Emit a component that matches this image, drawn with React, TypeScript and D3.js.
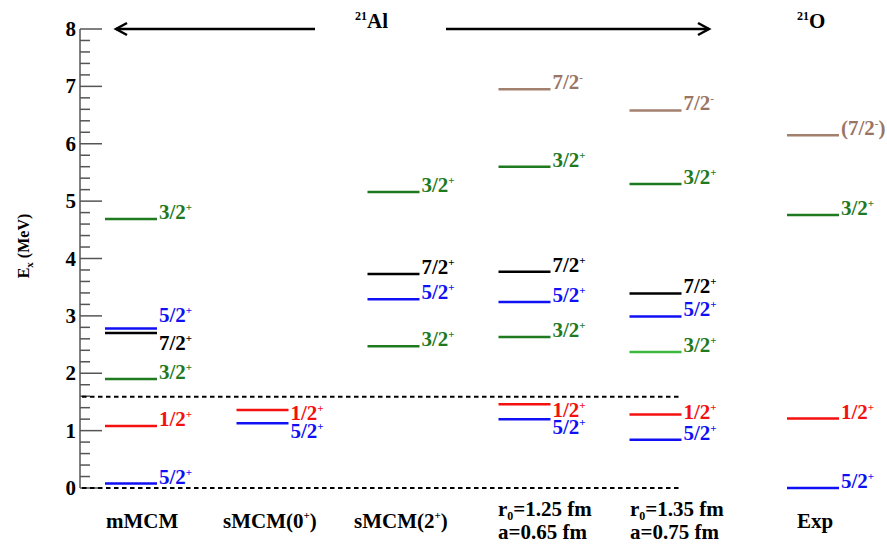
import * as d3 from "d3";
import { useEffect, useRef } from "react";

// Level scheme of 21Al (theory) and 21O (mirror, experiment)
const columns = ["mMCM", "sMCM0", "sMCM2", "r125", "r135", "Exp"];

// each level: spin, parity, energy (MeV)
const mMCM = [
  { j: "5/2", p: "+", e: 0.08 },
  { j: "1/2", p: "+", e: 1.08 },
  { j: "3/2", p: "+", e: 1.9 },
  { j: "7/2", p: "+", e: 2.7 },
  { j: "5/2", p: "+", e: 2.78 },
  { j: "3/2", p: "+", e: 4.69 },
];
const sMCM0 = [
  { j: "5/2", p: "+", e: 1.13 },
  { j: "1/2", p: "+", e: 1.36 },
];
const sMCM2 = [
  { j: "3/2", p: "+", e: 2.47 },
  { j: "5/2", p: "+", e: 3.29 },
  { j: "7/2", p: "+", e: 3.73 },
  { j: "3/2", p: "+", e: 5.16 },
];
const r125 = [
  { j: "5/2", p: "+", e: 1.2 },
  { j: "1/2", p: "+", e: 1.46 },
  { j: "3/2", p: "+", e: 2.63 },
  { j: "5/2", p: "+", e: 3.24 },
  { j: "7/2", p: "+", e: 3.77 },
  { j: "3/2", p: "+", e: 5.6 },
  { j: "7/2", p: "-", e: 6.95 },
];
const r135 = [
  { j: "5/2", p: "+", e: 0.84 },
  { j: "1/2", p: "+", e: 1.28 },
  { j: "3/2", p: "+", e: 2.37 },
  { j: "5/2", p: "+", e: 2.99 },
  { j: "7/2", p: "+", e: 3.39 },
  { j: "3/2", p: "+", e: 5.3 },
  { j: "7/2", p: "-", e: 6.58 },
];
const expO21 = [
  { j: "5/2", p: "+", e: 0.0 },
  { j: "1/2", p: "+", e: 1.21 },
  { j: "3/2", p: "+", e: 4.76 },
  { j: "(7/2", p: "-", e: 6.15, close: ")" },
];
const levelSets = [mMCM, sMCM0, sMCM2, r125, r135, expO21];

// dashed reference lines (ground state and threshold)
const dashedLevels = [0, 1.59];
const yTicks = [0, 1, 2, 3, 4, 5, 6, 7, 8];

// label nudges (px) where labels of close levels would collide
const labelShift: Record<string, number> = {
  "mMCM:3": 17,
  "mMCM:4": -6,
  "mMCM:0": 1,
  "sMCM0:0": 15,
  "sMCM0:1": 10,
  "r125:0": 15,
  "r125:1": 13,
  "r135:1": 4,
};

const colorOf = (d) => {
  if (d.p === "-") return "#a3806e";
  if (d.j === "5/2") return "#1010f5";
  if (d.j === "1/2") return "#f51010";
  if (d.j === "3/2") return "#1f7a1f";
  return "#000";
};
const textColorOf = (d) => (d.p === "-" ? "#9a7565" : colorOf(d));

const FONT = "'Liberation Serif', 'DejaVu Serif', serif";

const App = () => {
  const svgRef = useRef(null);

  useEffect(() => {
    if (!svgRef.current) return;
    const svg = d3.select(svgRef.current);
    svg.selectAll("*").remove();

    const y = d3.scaleLinear().domain([0, 8]).range([488, 29]);
    const x = d3
      .scaleOrdinal<string, number>()
      .domain(columns)
      .range([105, 236.5, 367.5, 498.5, 629.5, 787]);
    const lineLen = 52;
    const axisX = 80;

    // --- Axis ---
    const axis = svg.append("g").attr("stroke", "#555").attr("stroke-width", 1.5);
    axis.append("line").attr("x1", axisX).attr("x2", axisX).attr("y1", y(8)).attr("y2", y(0));
    const minor = d3.range(0, 8.001, 0.2);
    axis
      .selectAll("line.tick")
      .data(minor)
      .enter()
      .append("line")
      .attr("class", "tick")
      .attr("x1", axisX)
      .attr("x2", (d) => (Math.abs(d - Math.round(d)) < 1e-6 ? axisX + 22 : axisX + 10))
      .attr("y1", (d) => y(d))
      .attr("y2", (d) => y(d));

    svg
      .append("g")
      .selectAll("text")
      .data(yTicks)
      .enter()
      .append("text")
      .attr("x", 76)
      .attr("y", (d) => y(d) + 7)
      .attr("text-anchor", "end")
      .attr("font-family", FONT)
      .attr("font-weight", "bold")
      .attr("font-size", 21)
      .text((d) => d);

    // y title
    const yt = svg
      .append("text")
      .attr("transform", "translate(29,246) rotate(-90)")
      .attr("text-anchor", "middle")
      .attr("font-family", FONT)
      .attr("font-weight", "bold")
      .attr("font-size", 16);
    yt.append("tspan").text("E");
    yt.append("tspan").attr("font-size", 11).attr("dy", 4).text("x");
    yt.append("tspan").attr("dy", -4).text(" (MeV)");

    // --- Dashed lines ---
    svg
      .append("g")
      .selectAll("line")
      .data(dashedLevels)
      .enter()
      .append("line")
      .attr("x1", axisX + 2)
      .attr("x2", 682)
      .attr("y1", (d) => y(d))
      .attr("y2", (d) => y(d))
      .attr("stroke", "#000")
      .attr("stroke-width", 2)
      .attr("stroke-dasharray", "4.5,3.5");

    // --- Levels ---
    columns.forEach((col, ci) => {
      const g = svg.append("g");
      const levels = levelSets[ci];
      g.selectAll("line")
        .data(levels)
        .enter()
        .append("line")
        .attr("x1", x(col))
        .attr("x2", x(col) + lineLen)
        .attr("y1", (d) => y(d.e))
        .attr("y2", (d) => y(d.e))
        .attr("stroke", (d) => (col === "r135" && d.j === "3/2" && d.e < 3 ? "#3cb83c" : colorOf(d)))
        .attr("stroke-width", 2.5);

      g.selectAll("text")
        .data(levels)
        .enter()
        .append("text")
        .attr("x", x(col) + lineLen + 2)
        .attr("y", (d, i) => y(d.e) + (labelShift[`${col}:${i}`] || 0))
        .attr("font-family", FONT)
        .attr("font-weight", "bold")
        .attr("font-size", 21)
        .attr("fill", (d) => textColorOf(d))
        .each(function (d) {
          const t = d3.select(this);
          t.append("tspan").text(d.j);
          t.append("tspan").attr("font-size", 11).attr("dy", -8).text(d.p);
          if (d.close) t.append("tspan").attr("dy", 8).text(d.close);
        });
    });

    // --- Column labels ---
    const label = (xx, yy) =>
      svg
        .append("text")
        .attr("x", xx)
        .attr("y", yy)
        .attr("font-family", FONT)
        .attr("font-weight", "bold")
        .attr("font-size", 21);

    label(106, 528).text("mMCM");
    const s0 = label(223, 528);
    s0.append("tspan").text("sMCM(0");
    s0.append("tspan").attr("font-size", 11).attr("dy", -9).text("+");
    s0.append("tspan").attr("dy", 9).text(")");
    const s2 = label(354, 528);
    s2.append("tspan").text("sMCM(2");
    s2.append("tspan").attr("font-size", 11).attr("dy", -9).text("+");
    s2.append("tspan").attr("dy", 9).text(")");
    [
      ["1.25", "0.65", 498],
      ["1.35", "0.75", 630],
    ].forEach(([r, a, xx]) => {
      const t = label(xx, 516);
      t.append("tspan").text("r");
      t.append("tspan").attr("font-size", 12).attr("dy", 4).text("0");
      t.append("tspan").attr("dy", -4).text(`=${r} fm`);
      label(xx, 539).text(`a=${a} fm`);
    });
    label(797, 528).text("Exp");

    // --- Nucleus headers and arrows ---
    const head = (xx, nuc) => {
      const t = svg
        .append("text")
        .attr("x", xx)
        .attr("y", 28)
        .attr("font-family", FONT)
        .attr("font-weight", "bold")
        .attr("font-size", 21);
      t.append("tspan").attr("font-size", 12).attr("dy", -8).text("21");
      t.append("tspan").attr("dy", 8).text(nuc);
    };
    head(355, "Al");
    head(797, "O");

    const arrows = svg.append("g").attr("stroke", "#000").attr("stroke-width", 2.5).attr("fill", "none");
    arrows.append("line").attr("x1", 116).attr("x2", 315).attr("y1", 29).attr("y2", 29);
    arrows.append("path").attr("d", "M127,23 L116,29 L127,35").attr("stroke-linejoin", "miter");
    arrows.append("line").attr("x1", 446).attr("x2", 709).attr("y1", 29).attr("y2", 29);
    arrows.append("path").attr("d", "M698,23 L709,29 L698,35").attr("stroke-linejoin", "miter");
  }, []);

  return (
    <svg
      ref={svgRef}
      width={887}
      height={545}
      style={{ position: "absolute", left: 0, top: 0, background: "#fff" }}
    />
  );
};

export default App;
